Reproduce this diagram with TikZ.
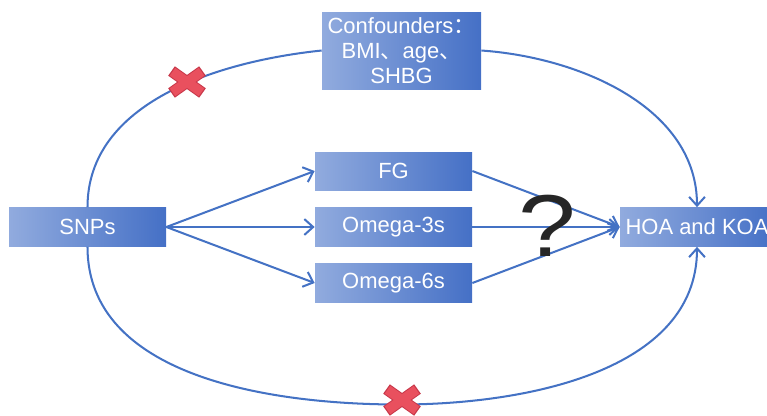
\documentclass[tikz,border=0pt]{standalone}
\usepackage{fontspec}
\setsansfont{Liberation Sans}
\newfontfamily\cjk{Noto Sans CJK SC}
\usetikzlibrary{arrows.meta}
\definecolor{boxlight}{HTML}{91ABDE}
\definecolor{boxdark}{HTML}{4570C6}
\definecolor{linkblue}{HTML}{4472C4}
\definecolor{crossred}{HTML}{E9505E}
\definecolor{crossedge}{HTML}{C8384A}
\tikzset{
  varbox/.style={shading=axis, left color=boxlight, right color=boxdark, text=white,
    minimum height=0.78cm, minimum width=3.14cm, inner sep=2pt,
    font=\sffamily\fontsize{12.5}{14.2}\selectfont, align=center},
  link/.style={linkblue, line width=1.15pt, -{Straight Barb[length=5pt,width=9pt,line width=1.15pt]}},
  arc/.style={linkblue, line width=1.15pt}
}
\newcommand{\redcross}[1]{%
  \begin{scope}[shift={#1}]
    \draw[crossedge, line width=0.23cm] (-0.31,-0.22) -- (0.31,0.22);
    \draw[crossedge, line width=0.23cm] (-0.31,0.22) -- (0.31,-0.22);
    \draw[crossred, line width=0.19cm] (-0.29,-0.205) -- (0.29,0.205);
    \draw[crossred, line width=0.19cm] (-0.29,0.205) -- (0.29,-0.205);
  \end{scope}}
\begin{document}
\begin{tikzpicture}
    \useasboundingbox (0,0) rectangle (15.34,8.3);
    \node[varbox, minimum width=3.18cm, minimum height=1.54cm] (conf) at (8.03,7.29) {Confounders{\cjk：}\\BMI{\cjk、}age{\cjk、}\\SHBG};
    \node[varbox] (snp) at (1.75,3.76) {SNPs};
    \node[varbox, minimum height=0.76cm] (fg) at (7.87,4.88) {FG};
    \node[varbox] (o3) at (7.87,3.76) {Omega-3s};
    \node[varbox] (o6) at (7.87,2.64) {Omega-6s};
    \node[varbox, minimum width=3.08cm] (koa) at (13.94,3.76) {HOA and KOA};
    \draw[link] (snp.east) -- (fg.west);
    \draw[link] (snp.east) -- (o3.west);
    \draw[link] (snp.east) -- (o6.west);
    \draw[link] (fg.east) -- (koa.west);
    \draw[link] (o3.east) -- (koa.west);
    \draw[link] (o6.east) -- (koa.west);
    \draw[arc] (snp.north) to[out=90, in=186, looseness=0.95] (conf.west);
    \draw[arc, -{Straight Barb[length=5pt,width=9pt,line width=1.15pt]}] (conf.east) to[out=-4, in=90, looseness=0.95] (koa.north);
    \coordinate (low) at (8.0,0.21);
    \draw[arc] (snp.south) to[out=-90, in=180, looseness=0.95] (low);
    \draw[arc, -{Straight Barb[length=5pt,width=9pt,line width=1.15pt]}] (low) to[out=0, in=-90, looseness=0.95] (koa.south);
    \node[font=\sffamily\fontsize{50}{50}\selectfont, text=black!85, xscale=1.18, transform shape] (ask) at (10.94,3.78) {?};
    \redcross{(3.74,6.66)}
    \redcross{(8.04,0.30)}
\end{tikzpicture}
\end{document}
